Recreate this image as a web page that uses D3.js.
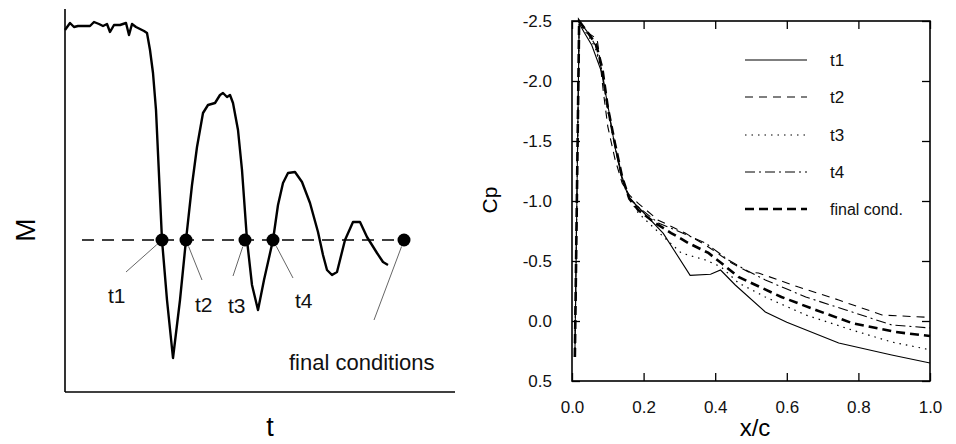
<!DOCTYPE html>
<html><head><meta charset="utf-8">
<script src="https://cdn.jsdelivr.net/npm/d3@7"></script>
<style>
html,body{margin:0;padding:0;background:#fff;}
svg{display:block;font-family:"Liberation Sans",Arial,sans-serif;}
</style></head>
<body><svg id="c" width="956" height="444"></svg>
<script>
// ---------- Left panel data (arbitrary units: time t, Mach M) ----------
const mTime = [0,5,9,13,25,29,34,38,42,45,49,55,58,61,64,67,71,75,79,82,85,88,91,97,102,108,115,121,127,132,138,143,150,155,158,162,165,168,173,177,182,187,193,199,208,213,218,223,230,237,245,253,258,262,267,272,280,288,295,302,312,318,323];
const mValue = [360,367,363,364,364,368,366,364,366,358,365,365,366,367,355,366,363,361,359,357,340,317,280,150,90,32,90,150,205,243,277,285,287,295,297,293,295,287,260,220,150,105,80,110,150,185,207,217,218,208,187,158,135,120,115,118,150,168,168,153,137,128,125];
const finalLevel = 150;
const eventNames = ["t1","t2","t3","t4","final conditions"];
const eventTimes = [97,121,180,208,339];

// ---------- Right panel data: Cp vs x/c ----------
const cpSeriesNames = ["t1","t2","t3","t4","final cond."];
const t1X = [0.008,0.02,0.035,0.055,0.082,0.1,0.12,0.14,0.16,0.185,0.255,0.33,0.387,0.415,0.456,0.54,0.6,0.745,0.893,1.0];
const t1Cp = [0.3,-2.48,-2.4,-2.3,-2.08,-1.8,-1.45,-1.18,-1.02,-0.95,-0.73,-0.38,-0.39,-0.425,-0.3,-0.075,0.01,0.183,0.283,0.35];
const t2X = [0.008,0.02,0.045,0.07,0.075,0.088,0.1,0.12,0.14,0.16,0.185,0.241,0.316,0.381,0.446,0.493,0.521,0.633,0.745,0.866,1.0];
const t2Cp = [0.3,-2.5,-2.4,-2.35,-2.25,-1.9,-1.62,-1.35,-1.15,-1.05,-0.98,-0.84,-0.733,-0.617,-0.483,-0.408,-0.4,-0.283,-0.175,-0.05,-0.03];
const t3X = [0.008,0.02,0.045,0.065,0.085,0.1,0.12,0.14,0.16,0.185,0.241,0.305,0.373,0.417,0.465,0.54,0.653,0.782,0.893,1.0];
const t3Cp = [0.3,-2.48,-2.38,-2.28,-2.05,-1.75,-1.45,-1.2,-1.02,-0.9,-0.742,-0.567,-0.508,-0.45,-0.317,-0.2,-0.05,0.075,0.175,0.24];
const t4X = [0.008,0.02,0.045,0.065,0.085,0.1,0.12,0.14,0.16,0.185,0.241,0.289,0.373,0.437,0.485,0.54,0.653,0.765,0.893,1.0];
const t4Cp = [0.3,-2.5,-2.4,-2.3,-2.07,-1.77,-1.47,-1.2,-1.03,-0.95,-0.817,-0.758,-0.65,-0.508,-0.425,-0.342,-0.2,-0.092,0.033,0.058];
const finX = [0.008,0.02,0.045,0.068,0.085,0.1,0.12,0.14,0.16,0.185,0.232,0.277,0.325,0.381,0.417,0.465,0.513,0.585,0.681,0.782,0.905,1.0];
const finCp = [0.3,-2.5,-2.4,-2.3,-2.1,-1.78,-1.48,-1.2,-1.02,-0.925,-0.817,-0.733,-0.65,-0.567,-0.483,-0.367,-0.3,-0.2,-0.092,0.017,0.092,0.125];
const xTicks = [0.0,0.2,0.4,0.6,0.8,1.0];
const yTicks = [-2.5,-2.0,-1.5,-1.0,-0.5,0.0,0.5];

const svg = d3.select("#c");
const fmt = d => d.toFixed(1);

// ================= LEFT PANEL =================
const tx = d3.scaleLinear().domain([0,390]).range([65,455]);
const my = d3.scaleLinear().domain([0,372]).range([390,18]);
const L = svg.append("g");

L.append("line").attr("x1",tx(0)).attr("x2",tx(0)).attr("y1",my(381)).attr("y2",my(-2))
  .attr("stroke","#000").attr("stroke-width",1.6);
L.append("line").attr("x1",tx(0)).attr("x2",tx(390)).attr("y1",my(-2)).attr("y2",my(-2))
  .attr("stroke","#000").attr("stroke-width",1.6);

// final-condition dashed level
L.append("line").attr("x1",tx(17)).attr("x2",tx(340)).attr("y1",my(finalLevel)).attr("y2",my(finalLevel))
  .attr("stroke","#000").attr("stroke-width",1.6).attr("stroke-dasharray","12,8");

const mData = mTime.map((t,i)=>[t,mValue[i]]);
L.append("path").datum(mData)
  .attr("d", d3.line().x(d=>tx(d[0])).y(d=>my(d[1])))
  .attr("fill","none").attr("stroke","#000").attr("stroke-width",2.4).attr("stroke-linejoin","round");

// leaders & labels (offsets are layout)
const leaderOff = [[-36,32],[16,40],[-12,36],[20,38],[-30,80]];
const labelPos = [[108,303],[195,312],[228,313],[295,308],[289,370]];
eventTimes.forEach((t,i)=>{
  const cx = tx(t), cy = my(finalLevel);
  const ang = Math.atan2(leaderOff[i][1], leaderOff[i][0]);
  L.append("line")
    .attr("x1",cx+Math.cos(ang)*7).attr("y1",cy+Math.sin(ang)*7)
    .attr("x2",cx+leaderOff[i][0]).attr("y2",cy+leaderOff[i][1])
    .attr("stroke","#666").attr("stroke-width",1);
  L.append("text").attr("x",labelPos[i][0]).attr("y",labelPos[i][1])
    .attr("font-size", i===4?22:21).attr("fill","#111").text(eventNames[i]);
});
L.selectAll("circle.ev").data(eventTimes).join("circle")
  .attr("cx",d=>tx(d)).attr("cy",my(finalLevel)).attr("r",6.5).attr("fill","#000");

L.append("text").attr("transform","translate(35,230) rotate(-90)")
  .attr("text-anchor","middle").attr("font-size",28).text("M");
L.append("text").attr("x",270).attr("y",436).attr("text-anchor","middle")
  .attr("font-size",27).text("t");

// ================= RIGHT PANEL =================
const x = d3.scaleLinear().domain([0,1]).range([572,930]);
const y = d3.scaleLinear().domain([-2.5,0.5]).range([21,381]);
const R = svg.append("g");

R.append("rect").attr("x",x(0)).attr("y",y(-2.5)).attr("width",x(1)-x(0)).attr("height",y(0.5)-y(-2.5))
  .attr("fill","none").attr("stroke","#000").attr("stroke-width",1.6);

const tickLen = 8;
// inward ticks on all sides
R.append("g").attr("transform",`translate(0,${y(0.5)})`)
  .call(d3.axisBottom(x).tickValues(xTicks).tickSize(-tickLen).tickPadding(tickLen+12).tickFormat(fmt))
  .call(g=>g.select(".domain").remove());
R.append("g").attr("transform",`translate(0,${y(-2.5)})`)
  .call(d3.axisTop(x).tickValues(xTicks).tickSize(-tickLen).tickFormat(""))
  .call(g=>g.select(".domain").remove());
R.append("g").attr("transform",`translate(${x(0)},0)`)
  .call(d3.axisLeft(y).tickValues(yTicks).tickSize(-tickLen).tickPadding(tickLen+12).tickFormat(fmt))
  .call(g=>g.select(".domain").remove());
R.append("g").attr("transform",`translate(${x(1)},0)`)
  .call(d3.axisRight(y).tickValues(yTicks).tickSize(-tickLen).tickFormat(""))
  .call(g=>g.select(".domain").remove());
R.selectAll(".tick line").attr("stroke","#000").attr("stroke-width",1.3);
R.selectAll(".tick text").attr("font-size",17).attr("fill","#111")
  .attr("font-family","'Liberation Sans',Arial,sans-serif");

const series = [
  {name:cpSeriesNames[0], xs:t1X, ys:t1Cp, dash:null, w:1.1},
  {name:cpSeriesNames[1], xs:t2X, ys:t2Cp, dash:"8,6", w:1.1},
  {name:cpSeriesNames[2], xs:t3X, ys:t3Cp, dash:"1.5,5", w:1.2},
  {name:cpSeriesNames[3], xs:t4X, ys:t4Cp, dash:"10,4,2,4", w:1.1},
  {name:cpSeriesNames[4], xs:finX, ys:finCp, dash:"9,5", w:2.6}
];
const line = d3.line().x(d=>x(d[0])).y(d=>y(d[1]));
series.forEach(s=>{
  R.append("path").datum(s.xs.map((v,i)=>[v,s.ys[i]]))
    .attr("d",line).attr("fill","none").attr("stroke","#000")
    .attr("stroke-width",s.w).attr("stroke-dasharray",s.dash);
});

// legend
const legRows = [60,97,135,172,209];
series.forEach((s,i)=>{
  R.append("line").attr("x1",745).attr("x2",807).attr("y1",legRows[i]).attr("y2",legRows[i])
    .attr("stroke","#000").attr("stroke-width",s.w).attr("stroke-dasharray",s.dash);
  R.append("text").attr("x",830).attr("y",legRows[i]+6).attr("font-size",i===4?16:17)
    .attr("fill","#111").text(s.name);
});

R.append("text").attr("transform",`translate(497,200) rotate(-90)`)
  .attr("text-anchor","middle").attr("font-size",21).text("Cp");
R.append("text").attr("x",755).attr("y",436).attr("text-anchor","middle")
  .attr("font-size",24).text("x/c");
</script></body></html>
